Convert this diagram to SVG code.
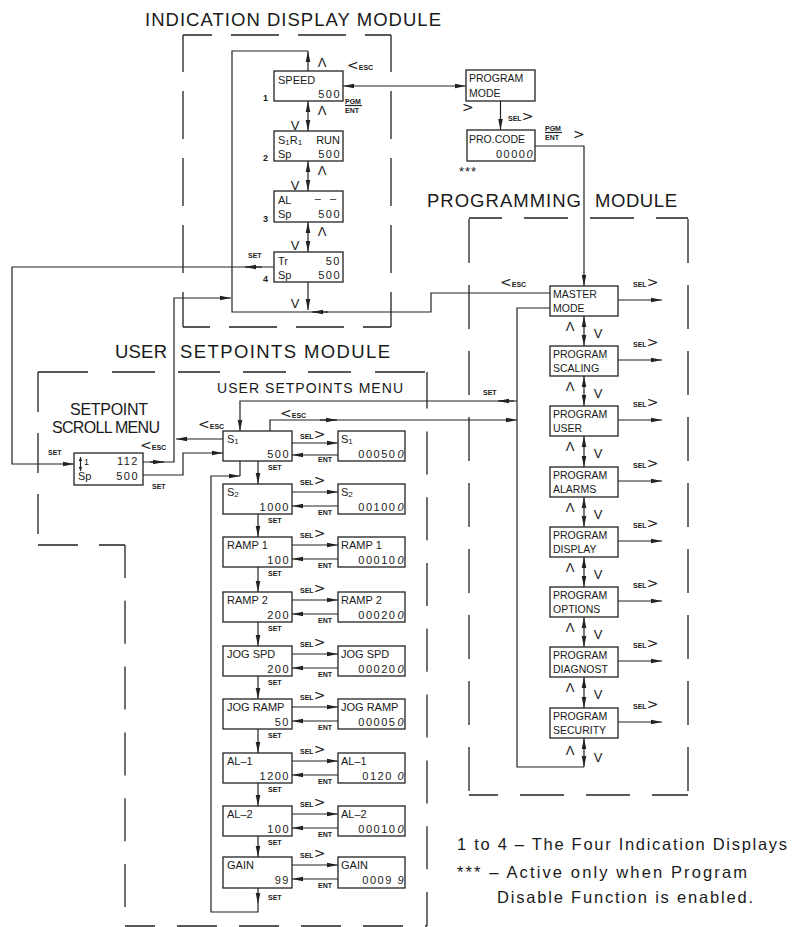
<svg xmlns="http://www.w3.org/2000/svg" width="811" height="927" viewBox="0 0 811 927">
<defs>
<marker id="ah" viewBox="0 0 11 6" markerWidth="11" markerHeight="6" refX="11" refY="3" orient="auto-start-reverse" markerUnits="userSpaceOnUse"><path d="M0,0.7 L11,3 L0,5.3 z" fill="#222"/></marker>
<marker id="ahs" viewBox="0 0 4 4" markerWidth="4" markerHeight="4" refX="4" refY="2" orient="auto-start-reverse" markerUnits="userSpaceOnUse"><path d="M0,0.3 L4,2 L0,3.7 z" fill="#222"/></marker>
</defs>
<style>
.bx{fill:#fff;stroke:#222;stroke-width:1.3}
.ln{fill:none;stroke:#222;stroke-width:1.2}
.ar{fill:none;stroke:#222;stroke-width:1.2;marker-end:url(#ah)}
.ar2{fill:none;stroke:#222;stroke-width:1.2;marker-start:url(#ah);marker-end:url(#ah)}
.dl{fill:none;stroke:#222;stroke-width:1.3}
text{font-family:"Liberation Sans",Arial,sans-serif;fill:#1a1a1a}
.ti{font-size:18.5px}
.b{font-size:10.5px}
.u{font-size:11px}
.v{font-size:11px;letter-spacing:1.5px;text-anchor:end}
.s{font-size:7px;font-weight:bold}
.g{font-family:"DejaVu Sans",sans-serif;font-size:14px;font-weight:normal}
.c{font-size:13px;text-anchor:middle}
.n{font-size:9px;font-weight:bold}
.lg{font-size:16.5px}
</style>

<g id="frames">
<line class="dl" x1="183" y1="35" x2="391" y2="35" stroke-dasharray="48 19" stroke-dashoffset="19"/>
<line class="dl" x1="183" y1="35" x2="183" y2="327" stroke-dasharray="48 19" stroke-dashoffset="11"/>
<line class="dl" x1="391" y1="35" x2="391" y2="327" stroke-dasharray="48 19" stroke-dashoffset="11"/>
<line class="dl" x1="183" y1="327" x2="391" y2="327" stroke-dasharray="48 19" stroke-dashoffset="21"/>

<line class="dl" x1="469" y1="218" x2="688" y2="218" stroke-dasharray="44 22" stroke-dashoffset="11"/>
<line class="dl" x1="469" y1="218" x2="469" y2="795" stroke-dasharray="44 22" stroke-dashoffset="-1"/>
<line class="dl" x1="688" y1="218" x2="688" y2="795" stroke-dasharray="44 22" stroke-dashoffset="-1"/>
<line class="dl" x1="469" y1="795" x2="688" y2="795" stroke-dasharray="44 22" stroke-dashoffset="15"/>

<line class="dl" x1="38" y1="372" x2="427" y2="372" stroke-dasharray="50 24 43 23 42 23 43 22 43 24 50"/>
<line class="dl" x1="427" y1="372" x2="427" y2="926" stroke-dasharray="43 22.8" stroke-dashoffset="6.4"/>
<line class="dl" x1="38" y1="372" x2="38" y2="545" stroke-dasharray="40 21" stroke-dashoffset="0"/>
<line class="dl" x1="38" y1="545" x2="125" y2="545" stroke-dasharray="40 21"/>
<line class="dl" x1="125" y1="545" x2="125" y2="926" stroke-dasharray="43 22.8" stroke-dashoffset="10"/>
<line class="dl" x1="125" y1="926" x2="427" y2="926" stroke-dasharray="40 22" stroke-dashoffset="10"/>
</g>

<g id="titles">
<text class="ti" x="145" y="26" textLength="296">INDICATION DISPLAY MODULE</text>
<text class="ti" x="427" y="207" textLength="154">PROGRAMMING</text>
<text class="ti" x="595" y="207" textLength="82">MODULE</text>
<text class="ti" x="115" y="358" textLength="52">USER</text>
<text class="ti" x="180" y="358" textLength="210">SETPOINTS MODULE</text>
<text style="font-size:14px" x="217" y="393" textLength="186">USER SETPOINTS MENU</text>
<text style="font-size:16px" x="70" y="415" textLength="78">SETPOINT</text>
<text style="font-size:16px" x="52" y="433" textLength="108">SCROLL MENU</text>
</g>

<g id="connectors">
<path class="ar" d="M308,71 V51"/>
<path class="ln" d="M308,51 H232 V312 H431 V293 H550"/>
<path class="ar" d="M308,282 V310"/>
<path class="ar" d="M328,312 H312"/>
<path class="ar2" d="M308,101 V131"/>
<path class="ar2" d="M308,161 V191"/>
<path class="ar2" d="M308,222 V252"/>
<path class="ar2" d="M343,86 H466"/>
<path class="ar" d="M500.5,101 V130"/>
<path class="ar" d="M535,146 H584 V286"/>
<path class="ar" d="M274,267 H12 V464 H74"/>
<path class="ar" d="M262,267 H245"/>
<path class="ar" d="M143,462 H174 V298 H231"/>
<path class="ar" d="M150,462 H164"/>
<path class="ar" d="M223,439 H176"/>
<path class="ar" d="M143,475 H183 V453 H223"/>
<path class="ar" d="M517,401 H240 V431"/>
<path class="ar" d="M514,401 H498"/>
<path class="ar" d="M270,431 V420 H517"/>
<path class="ar" d="M320,420 H337"/>
<path class="ln" d="M550,308 H517 V767 H584"/>
<path class="ar2" d="M584,316 V346"/>
<path class="ar2" d="M584,376 V406"/>
<path class="ar2" d="M584,436 V467"/>
<path class="ar2" d="M584,497 V527"/>
<path class="ar2" d="M584,557 V587"/>
<path class="ar2" d="M584,617 V647"/>
<path class="ar2" d="M584,677 V708"/>
<path class="ar2" d="M584,738 V767"/>
<path class="ar" d="M618,300 H662"/>
<path class="ar" d="M618,360 H662"/>
<path class="ar" d="M618,420 H662"/>
<path class="ar" d="M618,481 H662"/>
<path class="ar" d="M618,541 H662"/>
<path class="ar" d="M618,601 H662"/>
<path class="ar" d="M618,661 H662"/>
<path class="ar" d="M618,722 H662"/>
<path class="ar" d="M292,443 H338"/><path class="ar" d="M338,455 H292"/>
<path class="ar" d="M292,492 H338"/><path class="ar" d="M338,506 H292"/>
<path class="ar" d="M292,545 H338"/><path class="ar" d="M338,559 H292"/>
<path class="ar" d="M292,600 H338"/><path class="ar" d="M338,614 H292"/>
<path class="ar" d="M292,654 H338"/><path class="ar" d="M338,668 H292"/>
<path class="ar" d="M292,707 H338"/><path class="ar" d="M338,721 H292"/>
<path class="ar" d="M292,761 H338"/><path class="ar" d="M338,775 H292"/>
<path class="ar" d="M292,814 H338"/><path class="ar" d="M338,828 H292"/>
<path class="ar" d="M292,865 H338"/><path class="ar" d="M338,879 H292"/>
<path class="ar" d="M258,461 V484"/>
<path class="ar" d="M258,514 V537"/>
<path class="ar" d="M258,567 V592"/>
<path class="ar" d="M258,622 V646"/>
<path class="ar" d="M258,676 V699"/>
<path class="ar" d="M258,729 V753"/>
<path class="ar" d="M258,783 V806"/>
<path class="ar" d="M258,836 V857"/>
<path class="ar" d="M258,888 V904"/>
<path class="ar" d="M258,904 V912 H211 V476 H240"/>
<path class="ln" d="M240,461 V476"/>
</g>

<g id="labels">
<text x="347" y="70"><tspan class="g">&lt;</tspan><tspan class="s">ESC</tspan></text>
<text class="s" x="345" y="104">PGM</text><line class="ln" x1="345" y1="105.5" x2="362" y2="105.5" stroke-width="0.8"/>
<text class="s" x="345" y="113">ENT</text>
<text class="g" x="462" y="112">&gt;</text>
<text x="508" y="121"><tspan class="s">SEL</tspan><tspan class="g">&gt;</tspan></text>
<text class="s" x="545" y="131">PGM</text><line class="ln" x1="545" y1="132.5" x2="562" y2="132.5" stroke-width="0.8"/>
<text class="s" x="545" y="140">ENT</text>
<text class="g" x="573" y="139">&gt;</text>
<text style="font-size:13px;letter-spacing:1px" x="459" y="176">***</text>
<text class="s" x="248" y="258">SET</text>
<text class="s" x="48" y="455">SET</text>
<text class="s" x="152" y="489">SET</text>
<text x="140" y="450"><tspan class="g">&lt;</tspan><tspan class="s">ESC</tspan></text>
<text x="198" y="429"><tspan class="g">&lt;</tspan><tspan class="s">ESC</tspan></text>
<text x="280" y="418"><tspan class="g">&lt;</tspan><tspan class="s">ESC</tspan></text>
<text x="500" y="287"><tspan class="g">&lt;</tspan><tspan class="s">ESC</tspan></text>
<text class="s" x="483" y="395">SET</text>
<text class="c" x="322" y="67">Λ</text>
<text class="c" x="322" y="115">Λ</text><text class="c" x="295" y="130">V</text>
<text class="c" x="322" y="175">Λ</text><text class="c" x="295" y="190">V</text>
<text class="c" x="322" y="236">Λ</text><text class="c" x="295" y="250">V</text>
<text class="c" x="295" y="308">V</text>
<text class="n" x="263" y="101">1</text>
<text class="n" x="263" y="161">2</text>
<text class="n" x="263" y="222">3</text>
<text class="n" x="263" y="282">4</text>
<text class="c" x="570" y="331">Λ</text><text class="c" x="598" y="338">V</text>
<text class="c" x="570" y="391">Λ</text><text class="c" x="598" y="398">V</text>
<text class="c" x="570" y="451">Λ</text><text class="c" x="598" y="458">V</text>
<text class="c" x="570" y="512">Λ</text><text class="c" x="598" y="519">V</text>
<text class="c" x="570" y="572">Λ</text><text class="c" x="598" y="579">V</text>
<text class="c" x="570" y="632">Λ</text><text class="c" x="598" y="639">V</text>
<text class="c" x="570" y="692">Λ</text><text class="c" x="598" y="699">V</text>
<text class="c" x="570" y="755">Λ</text><text class="c" x="598" y="762">V</text>
<text x="633" y="287"><tspan class="s">SEL</tspan><tspan class="g">&gt;</tspan></text>
<text x="633" y="347"><tspan class="s">SEL</tspan><tspan class="g">&gt;</tspan></text>
<text x="633" y="407"><tspan class="s">SEL</tspan><tspan class="g">&gt;</tspan></text>
<text x="633" y="468"><tspan class="s">SEL</tspan><tspan class="g">&gt;</tspan></text>
<text x="633" y="528"><tspan class="s">SEL</tspan><tspan class="g">&gt;</tspan></text>
<text x="633" y="588"><tspan class="s">SEL</tspan><tspan class="g">&gt;</tspan></text>
<text x="633" y="648"><tspan class="s">SEL</tspan><tspan class="g">&gt;</tspan></text>
<text x="633" y="709"><tspan class="s">SEL</tspan><tspan class="g">&gt;</tspan></text>
<text x="300" y="439"><tspan class="s">SEL</tspan><tspan class="g">&gt;</tspan></text>
<text x="300" y="485"><tspan class="s">SEL</tspan><tspan class="g">&gt;</tspan></text>
<text x="300" y="538"><tspan class="s">SEL</tspan><tspan class="g">&gt;</tspan></text>
<text x="300" y="593"><tspan class="s">SEL</tspan><tspan class="g">&gt;</tspan></text>
<text x="300" y="647"><tspan class="s">SEL</tspan><tspan class="g">&gt;</tspan></text>
<text x="300" y="700"><tspan class="s">SEL</tspan><tspan class="g">&gt;</tspan></text>
<text x="300" y="754"><tspan class="s">SEL</tspan><tspan class="g">&gt;</tspan></text>
<text x="300" y="807"><tspan class="s">SEL</tspan><tspan class="g">&gt;</tspan></text>
<text x="300" y="858"><tspan class="s">SEL</tspan><tspan class="g">&gt;</tspan></text>
<text class="s" x="318" y="462">ENT</text>
<text class="s" x="318" y="515">ENT</text>
<text class="s" x="318" y="568">ENT</text>
<text class="s" x="318" y="623">ENT</text>
<text class="s" x="318" y="677">ENT</text>
<text class="s" x="318" y="730">ENT</text>
<text class="s" x="318" y="784">ENT</text>
<text class="s" x="318" y="837">ENT</text>
<text class="s" x="318" y="888">ENT</text>
<text class="s" x="268" y="470">SET</text>
<text class="s" x="268" y="523">SET</text>
<text class="s" x="268" y="576">SET</text>
<text class="s" x="268" y="631">SET</text>
<text class="s" x="268" y="685">SET</text>
<text class="s" x="268" y="738">SET</text>
<text class="s" x="268" y="792">SET</text>
<text class="s" x="268" y="845">SET</text>
<text class="s" x="268" y="900">SET</text>
</g>

<g id="disp1"><rect class="bx" x="274" y="71" width="69" height="30"/><text class="u" x="278" y="83.5">SPEED</text><text class="v" x="341" y="97.5">500</text></g>
<g id="disp2"><rect class="bx" x="274" y="131" width="69" height="30"/><text class="u" x="278" y="144">S<tspan font-size="8" dy="1">1</tspan><tspan dy="-1">R</tspan><tspan font-size="8" dy="1">1</tspan></text><text class="u" x="340" y="144" text-anchor="end">RUN</text><text class="u" x="278" y="157.5">Sp</text><text class="v" x="341" y="157.5">500</text></g>
<g id="disp3"><rect class="bx" x="274" y="191" width="69" height="31"/><text class="u" x="278" y="204">AL</text><text class="u" x="339" y="202" text-anchor="end" style="letter-spacing:3px">– –</text><text class="u" x="278" y="218">Sp</text><text class="v" x="341" y="218">500</text></g>
<g id="disp4"><rect class="bx" x="274" y="252" width="69" height="30"/><text class="u" x="278" y="264.5">Tr</text><text class="v" x="341" y="264.5">50</text><text class="u" x="278" y="278.5">Sp</text><text class="v" x="341" y="278.5">500</text></g>

<g id="progmode"><rect class="bx" x="466" y="70" width="69" height="31"/><text class="b" x="469" y="81.7">PROGRAM</text><text class="b" x="469" y="96.7">MODE</text></g>
<g id="procode"><rect class="bx" x="467" y="130" width="68" height="31"/><text class="b" x="469" y="142.7">PRO.CODE</text><text class="v" x="534" y="157.5">0000<tspan font-style="italic">0</tspan></text></g>

<g id="scroll"><rect class="bx" x="74" y="453" width="69" height="32"/>
<line class="ln" x1="80.5" y1="457" x2="80.5" y2="471" style="marker-start:url(#ahs);marker-end:url(#ahs)" stroke-width="1"/>
<text class="u" x="84" y="465" style="font-size:9px">1</text><text class="v" x="139" y="465">112</text><text class="u" x="78" y="480">Sp</text><text class="v" x="139" y="480">500</text></g>

<g id="pm1"><rect class="bx" x="550" y="286" width="68" height="30"/><text class="b" x="553" y="297.5">MASTER</text><text class="b" x="553" y="312">MODE</text></g>
<g id="pm2"><rect class="bx" x="550" y="346" width="68" height="30"/><text class="b" x="553" y="357.5">PROGRAM</text><text class="b" x="553" y="372">SCALING</text></g>
<g id="pm3"><rect class="bx" x="550" y="406" width="68" height="30"/><text class="b" x="553" y="417.5">PROGRAM</text><text class="b" x="553" y="432">USER</text></g>
<g id="pm4"><rect class="bx" x="550" y="467" width="68" height="30"/><text class="b" x="553" y="478.5">PROGRAM</text><text class="b" x="553" y="493">ALARMS</text></g>
<g id="pm5"><rect class="bx" x="550" y="527" width="68" height="30"/><text class="b" x="553" y="538.5">PROGRAM</text><text class="b" x="553" y="553">DISPLAY</text></g>
<g id="pm6"><rect class="bx" x="550" y="587" width="68" height="30"/><text class="b" x="553" y="598.5">PROGRAM</text><text class="b" x="553" y="613">OPTIONS</text></g>
<g id="pm7"><rect class="bx" x="550" y="647" width="68" height="30"/><text class="b" x="553" y="658.5">PROGRAM</text><text class="b" x="553" y="673">DIAGNOST</text></g>
<g id="pm8"><rect class="bx" x="550" y="708" width="68" height="30"/><text class="b" x="553" y="719.5">PROGRAM</text><text class="b" x="553" y="734">SECURITY</text></g>

<g id="us1"><rect class="bx" x="223" y="431" width="69" height="30"/><text class="u" x="227" y="442.5">S<tspan font-size="8" dy="1">1</tspan></text><text class="v" x="290" y="458">500</text></g>
<g id="uv1"><rect class="bx" x="338" y="431" width="67" height="30"/><text class="u" x="341" y="442.5">S<tspan font-size="8" dy="1">1</tspan></text><text class="v" x="405" y="458">00050<tspan font-style="italic" dx="1">0</tspan></text></g>
<g id="us2"><rect class="bx" x="223" y="484" width="69" height="30"/><text class="u" x="227" y="495.5">S<tspan font-size="8" dy="1">2</tspan></text><text class="v" x="290" y="511">1000</text></g>
<g id="uv2"><rect class="bx" x="338" y="484" width="67" height="30"/><text class="u" x="341" y="495.5">S<tspan font-size="8" dy="1">2</tspan></text><text class="v" x="405" y="511">00100<tspan font-style="italic" dx="1">0</tspan></text></g>
<g id="us3"><rect class="bx" x="223" y="537" width="69" height="30"/><text class="u" x="227" y="548.5">RAMP 1</text><text class="v" x="290" y="564">100</text></g>
<g id="uv3"><rect class="bx" x="338" y="537" width="67" height="30"/><text class="u" x="341" y="548.5">RAMP 1</text><text class="v" x="405" y="564">00010<tspan font-style="italic" dx="1">0</tspan></text></g>
<g id="us4"><rect class="bx" x="223" y="592" width="69" height="30"/><text class="u" x="227" y="603.5">RAMP 2</text><text class="v" x="290" y="619">200</text></g>
<g id="uv4"><rect class="bx" x="338" y="592" width="67" height="30"/><text class="u" x="341" y="603.5">RAMP 2</text><text class="v" x="405" y="619">00020<tspan font-style="italic" dx="1">0</tspan></text></g>
<g id="us5"><rect class="bx" x="223" y="646" width="69" height="30"/><text class="u" x="227" y="657.5">JOG SPD</text><text class="v" x="290" y="673">200</text></g>
<g id="uv5"><rect class="bx" x="338" y="646" width="67" height="30"/><text class="u" x="341" y="657.5">JOG SPD</text><text class="v" x="405" y="673">00020<tspan font-style="italic" dx="1">0</tspan></text></g>
<g id="us6"><rect class="bx" x="223" y="699" width="69" height="30"/><text class="u" x="227" y="710.5">JOG RAMP</text><text class="v" x="290" y="726">50</text></g>
<g id="uv6"><rect class="bx" x="338" y="699" width="67" height="30"/><text class="u" x="341" y="710.5">JOG RAMP</text><text class="v" x="405" y="726">00005<tspan font-style="italic" dx="1">0</tspan></text></g>
<g id="us7"><rect class="bx" x="223" y="753" width="69" height="30"/><text class="u" x="227" y="764.5">AL–1</text><text class="v" x="290" y="780">1200</text></g>
<g id="uv7"><rect class="bx" x="338" y="753" width="67" height="30"/><text class="u" x="341" y="764.5">AL–1</text><text class="v" x="405" y="780">0120 <tspan font-style="italic">0</tspan></text></g>
<g id="us8"><rect class="bx" x="223" y="806" width="69" height="30"/><text class="u" x="227" y="817.5">AL–2</text><text class="v" x="290" y="833">100</text></g>
<g id="uv8"><rect class="bx" x="338" y="806" width="67" height="30"/><text class="u" x="341" y="817.5">AL–2</text><text class="v" x="405" y="833">00010<tspan font-style="italic" dx="1">0</tspan></text></g>
<g id="us9"><rect class="bx" x="223" y="857" width="69" height="31"/><text class="u" x="227" y="868.5">GAIN</text><text class="v" x="290" y="884">99</text></g>
<g id="uv9"><rect class="bx" x="338" y="857" width="67" height="31"/><text class="u" x="341" y="868.5">GAIN</text><text class="v" x="405" y="884">0009 <tspan font-style="italic">9</tspan></text></g>

<g id="legend">
<text class="lg" x="457" y="850" textLength="330">1 to 4 – The Four Indication Displays</text>
<text class="lg" x="457" y="878" textLength="290">*** – Active only when Program</text>
<text class="lg" x="497" y="903" textLength="256">Disable Function is enabled.</text>
</g>
</svg>
